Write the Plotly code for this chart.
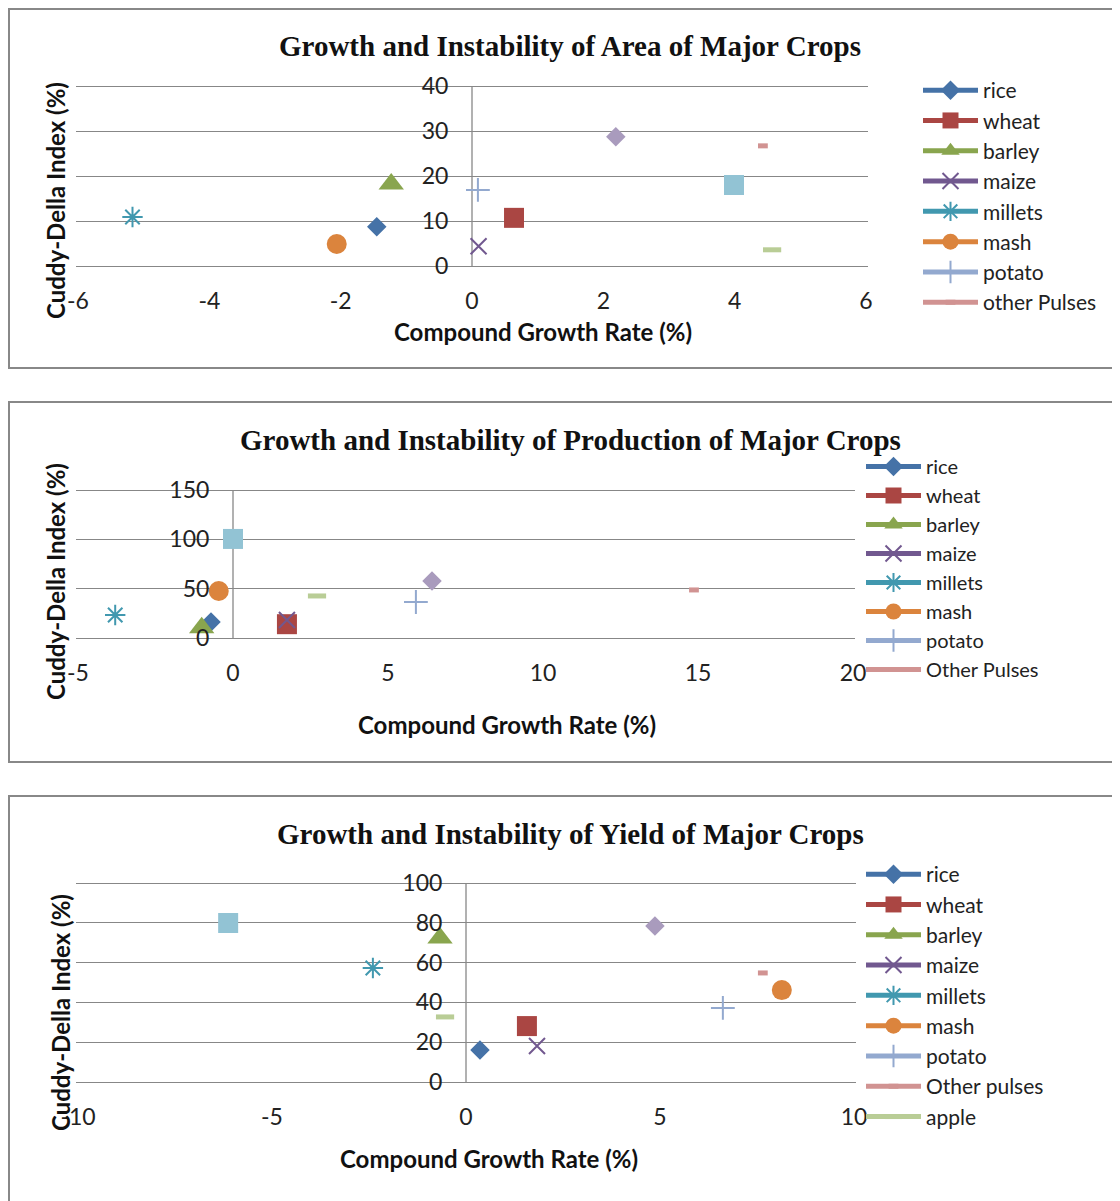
import plotly.graph_objects as go

# ---------------- data ----------------
crops_area = ["rice", "wheat", "barley", "maize", "millets", "mash", "potato", "other Pulses"]
area_cgr = [-1.45, 0.64, -1.23, 0.10, -5.17, -2.06, 0.09, 4.43]
area_cdi = [8.7, 10.7, 18.2, 4.4, 10.9, 4.9, 16.9, 26.7]
# unlabelled extra series shown in the area chart (no legend entries)
area_extra_cgr = [4.57, 2.19, 3.99]
area_extra_cdi = [3.6, 28.7, 18.0]
area_xticks = [-6, -4, -2, 0, 2, 4, 6]
area_yticks = [0, 10, 20, 30, 40]

crops_prod = ["rice", "wheat", "barley", "maize", "millets", "mash", "potato", "Other Pulses"]
prod_cgr = [-0.71, 1.74, -1.01, 1.74, -3.80, -0.46, 5.90, 14.87]
prod_cdi = [16.2, 14.0, 10.5, 18.3, 23.3, 47.6, 36.5, 48.7]
prod_extra_cgr = [2.71, 6.42, 0.00]
prod_extra_cdi = [42.6, 57.8, 100.4]
prod_xticks = [-5, 0, 5, 10, 15, 20]
prod_yticks = [0, 50, 100, 150]

crops_yield = ["rice", "wheat", "barley", "maize", "millets", "mash", "potato", "Other pulses", "apple"]
yield_cgr = [0.36, 1.57, -0.67, 1.83, -2.40, 8.14, 6.62, 7.65, -0.54]
yield_cdi = [16.1, 28.1, 72.4, 18.1, 57.3, 46.2, 37.2, 54.8, 32.7]
yield_extra_cgr = [4.87, -6.13]
yield_extra_cdi = [78.4, 79.9]
yield_xticks = [-10, -5, 0, 5, 10]
yield_yticks = [0, 20, 40, 60, 80, 100]

titles = ["Growth and Instability of Area of Major Crops",
          "Growth and Instability of Production of Major Crops",
          "Growth and Instability of Yield of Major Crops"]
x_title = "Compound Growth Rate (%)"
y_title = "Cuddy-Della Index (%)"

# ---------------- styles ----------------
W, H = 1120, 1201
OFF = 8  # page body margin
colors = ["#4572A7", "#AA4643", "#89A54E", "#71588F", "#4198AF", "#DB843D",
          "#93A9CF", "#D19392", "#B9CD96", "#A99BBD", "#92C3D4"]
symbols = ["diamond", "square", "triangle-up", "x-thin", "asterisk", "circle",
           "cross-thin", "line-ew", "line-ew", "diamond", "square"]
sizes = [15, 20, 22, 16, 17, 20, 17, 7, 13, 15, 20]
open_syms = {"x-thin", "asterisk", "cross-thin", "line-ew"}
SANS = "Lato, Carlito, sans-serif"

def px(x):
    return (x - OFF) / W

def py(y):
    return 1 - (y - OFF) / H

panels = [
    dict(names=crops_area, xs=area_cgr, ys=area_cdi, ex=area_extra_cgr, ey=area_extra_cdi,
         xt_vals=area_xticks, yt_vals=area_yticks,
         xdom=(78, 866), ydom=(266, 86), xr=(-6, 6), yr=(0, 40),
         box=(9, 9, 368), title_y=46, xt=(543, 332), yt=(55, 201), leg=(918, 70), leg_font=21),
    dict(names=crops_prod, xs=prod_cgr, ys=prod_cdi, ex=prod_extra_cgr, ey=prod_extra_cdi,
         xt_vals=prod_xticks, yt_vals=prod_yticks,
         xdom=(78, 853), ydom=(638, 490), xr=(-5, 20), yr=(0, 150),
         box=(9, 402, 762), title_y=440, xt=(507, 724), yt=(55, 582), leg=(861, 447), leg_font=20),
    dict(names=crops_yield, xs=yield_cgr, ys=yield_cdi, ex=yield_extra_cgr, ey=yield_extra_cdi,
         xt_vals=yield_xticks, yt_vals=yield_yticks,
         xdom=(78, 854), ydom=(1082, 883), xr=(-10, 10), yr=(0, 100),
         box=(9, 796, 1215), title_y=834, xt=(489, 1158), yt=(60, 1013), leg=(861, 854), leg_font=21),
]

fig = go.Figure()
shapes, annotations = [], []
layout = {}
tick_font = dict(family=SANS, size=23, color="#222222")
PAD = 2  # px padding so the end gridlines are drawn

for i, p in enumerate(panels):
    k = i + 1
    xa = "x" if k == 1 else f"x{k}"
    ya = "y" if k == 1 else f"y{k}"
    lg = "legend" if k == 1 else f"legend{k}"
    n = len(p["names"])
    for j in range(n):
        sym = symbols[j]
        col = colors[j]
        marker = dict(symbol=sym, size=sizes[j], color=col,
                      line=dict(width=(5 if sym == "line-ew" else 2) if sym in open_syms else 0,
                                color=col))
        fig.add_trace(go.Scatter(
            x=[p["xs"][j]], y=[p["ys"][j]], name=p["names"][j], mode="lines+markers",
            line=dict(color=col, width=5), marker=marker, xaxis=xa, yaxis=ya,
            legend=lg, cliponaxis=False))
    for m in range(len(p["ex"])):
        j = n + m
        sym = symbols[j]
        col = colors[j]
        marker = dict(symbol=sym, size=sizes[j], color=col,
                      line=dict(width=(5 if sym == "line-ew" else 2) if sym in open_syms else 0,
                                color=col))
        fig.add_trace(go.Scatter(
            x=[p["ex"][m]], y=[p["ey"][m]], mode="markers", marker=marker,
            xaxis=xa, yaxis=ya, showlegend=False, cliponaxis=False))

    x0, x1 = p["xdom"]
    yb, yt_ = p["ydom"]
    zero_px = x0 + (0 - p["xr"][0]) / (p["xr"][1] - p["xr"][0]) * (x1 - x0)
    upx = (p["xr"][1] - p["xr"][0]) / (x1 - x0)
    upy = (p["yr"][1] - p["yr"][0]) / (yb - yt_)
    layout["xaxis" if k == 1 else f"xaxis{k}"] = dict(
        domain=[px(x0 - PAD), px(x1 + PAD)],
        range=[p["xr"][0] - PAD * upx, p["xr"][1] + PAD * upx], anchor=ya,
        tickvals=p["xt_vals"], ticktext=[str(v) for v in p["xt_vals"]],
        showgrid=False, zeroline=False, showline=False, ticks="outside", ticklen=0,
        ticklabelstandoff=12, tickfont=tick_font, automargin=False)
    layout["yaxis" if k == 1 else f"yaxis{k}"] = dict(
        domain=[py(yb + PAD), py(yt_ - PAD)],
        range=[p["yr"][0] - PAD * upy, p["yr"][1] + PAD * upy], anchor="free",
        tickvals=p["yt_vals"], ticktext=[str(v) for v in p["yt_vals"]],
        position=px(zero_px), showgrid=True, gridcolor="#878787", gridwidth=1.3,
        zeroline=False, showline=False,
        ticks="outside", ticklen=0, ticklabelstandoff=19, tickfont=tick_font, automargin=False)
    # vertical axis line at x = 0, spanning the value range
    shapes.append(dict(type="line", xref=xa, yref=ya, x0=0, x1=0, y0=p["yr"][0], y1=p["yr"][1],
                       line=dict(color="#878787", width=1.3), layer="below"))
    layout[lg] = dict(x=px(p["leg"][0]), y=py(p["leg"][1]), xanchor="left", yanchor="top",
                      font=dict(family=SANS, size=p["leg_font"], color="#222222"),
                      bgcolor="rgba(0,0,0,0)", itemwidth=55, tracegroupgap=0)

    bx, bt, bb = p["box"]
    shapes.append(dict(type="rect", xref="paper", yref="paper", x0=px(bx), x1=px(W + 40),
                       y0=py(bb), y1=py(bt), line=dict(color="#888888", width=2), layer="below"))
    annotations.append(dict(text=f"<b>{titles[i]}</b>", x=px(570), y=py(p["title_y"]),
                            xref="paper", yref="paper", showarrow=False, xanchor="center",
                            yanchor="middle",
                            font=dict(family="Liberation Serif, Times New Roman, serif", size=29,
                                      color="#111111")))
    annotations.append(dict(text=f"<b>{x_title}</b>", x=px(p["xt"][0]), y=py(p["xt"][1]),
                            xref="paper", yref="paper", showarrow=False, xanchor="center",
                            yanchor="middle",
                            font=dict(family=SANS, size=24, color="#111111")))
    annotations.append(dict(text=f"<b>{y_title}</b>", x=px(p["yt"][0]), y=py(p["yt"][1]),
                            xref="paper", yref="paper", showarrow=False, xanchor="center",
                            yanchor="middle", textangle=-90,
                            font=dict(family=SANS, size=24, color="#111111")))

fig.update_layout(
    width=W, height=H, margin=dict(l=0, r=0, t=0, b=0, pad=0, autoexpand=False),
    paper_bgcolor="white", plot_bgcolor="white",
    shapes=shapes, annotations=annotations, **layout)

fig.write_html("out.html")
